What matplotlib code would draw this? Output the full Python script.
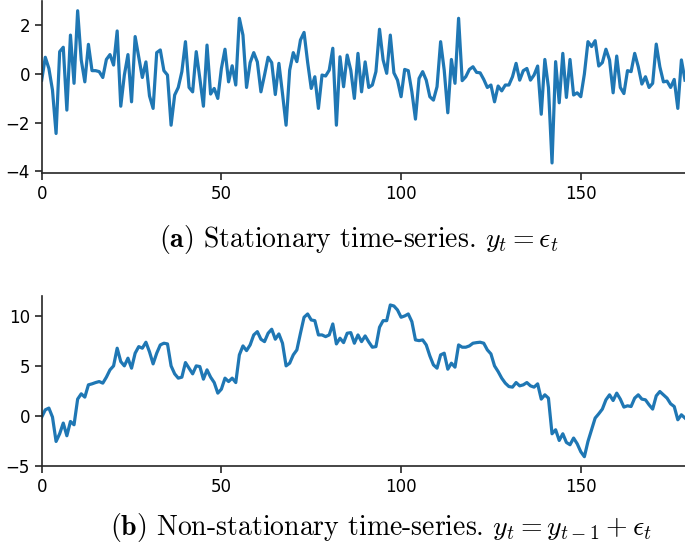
import numpy as np
import matplotlib
matplotlib.use("Agg")
import matplotlib.pyplot as plt

plt.rcParams["mathtext.fontset"] = "cm"

# stationary series y_t = eps_t
stationary = [
    -0.25, 0.69, 0.23, -0.66, -2.44, 0.92, 1.1, -1.48, 1.6, -0.38,
    2.6, 0.58, -0.32, 1.22, 0.14, 0.14, 0.1, -0.14, 0.6, 0.8,
    0.37, 1.77, -1.32, -0.04, 0.8, -1.14, 1.54, 0.71, -0.14, 0.5,
    -0.9, -1.41, 0.88, 0.99, 0.14, -0.04, -2.1, -0.86, -0.55, 0.1,
    1.33, -0.55, -0.73, 0.92, -0.18, -1.32, 1.19, -0.82, -0.59, -1.0,
    0.23, 1.02, -0.32, 0.34, -0.45, 2.29, 1.6, -0.55, 0.47, 0.88,
    0.5, -0.73, -0.04, 0.69, 0.47, -0.84, 0.44, -0.8, -2.1, 0.16,
    0.88, 0.51, 1.4, 1.71, 0.48, -0.59, -0.11, -1.41, -0.04, -0.08,
    0.16, 1.06, -2.1, 0.71, -0.52, 0.78, 0.16, -1.0, 0.85, -0.73,
    0.5, -0.55, -0.45, 0.1, 1.84, 0.58, 0.03, 1.6, 0.05, -0.25,
    -0.93, 0.19, 0.14, -0.73, -1.85, -0.18, 0.1, -0.25, -0.93, -1.07,
    -0.52, 1.33, 0.16, -1.59, 0.6, -0.38, 2.29, -0.27, -0.11, 0.19,
    0.3, 0.07, 0.05, -0.22, -0.55, -0.45, -1.14, -0.49, -0.69, -0.45,
    -0.45, -0.11, 0.44, -0.25, 0.14, 0.23, -0.25, -0.04, 0.33, -1.65,
    0.6, -0.55, -3.65, 0.51, -1.18, 0.85, -0.96, 0.6, -0.86, -0.77,
    -0.93, 0.0, 1.33, 1.13, 1.37, 0.33, 0.47, 1.02, 0.58, -0.77,
    0.74, -0.55, -0.8, 0.14, 0.1, 0.85, 0.3, -0.41, -0.11, -0.55,
    -0.38, 1.23, 0.3, -0.32, -0.29, -0.55, -0.22, -1.41, 0.58, -0.25,
]

# random walk y_t = y_{t-1} + eps_t
nonstationary = [
    -0.13, 0.6, 0.77, -0.13, -2.57, -1.8, -0.73, -2.0, -0.57, -0.9,
    1.67, 2.2, 1.87, 3.1, 3.2, 3.33, 3.43, 3.27, 3.87, 4.6,
    5.0, 6.77, 5.43, 5.0, 5.77, 4.77, 6.27, 6.93, 6.77, 7.37,
    6.4, 5.2, 6.27, 7.1, 7.27, 7.2, 5.0, 4.2, 3.77, 3.87,
    5.33, 4.77, 4.2, 5.0, 4.93, 3.67, 4.6, 3.87, 3.33, 2.27,
    2.67, 3.77, 3.43, 3.77, 3.33, 6.1, 7.0, 6.53, 7.1, 8.1,
    8.43, 7.67, 7.43, 8.27, 8.67, 7.67, 8.2, 7.27, 5.0, 5.27,
    6.1, 6.6, 8.27, 9.87, 10.2, 9.6, 9.53, 8.1, 8.1, 7.93,
    8.1, 9.2, 7.2, 7.77, 7.33, 8.27, 8.33, 7.27, 8.1, 7.43,
    8.0, 7.4, 6.87, 6.93, 8.87, 9.53, 9.53, 11.1, 11.0, 10.6,
    9.87, 10.0, 10.2, 9.43, 7.6, 7.53, 7.6, 7.1, 6.0, 5.1,
    4.77, 6.1, 6.27, 4.67, 5.27, 4.87, 7.1, 6.87, 6.87, 7.0,
    7.27, 7.33, 7.37, 7.27, 6.6, 6.2, 5.0, 4.43, 3.77, 3.27,
    2.93, 2.87, 3.33, 3.0, 3.1, 3.33, 3.0, 2.87, 3.2, 1.67,
    2.1, 1.77, -1.8, -1.4, -2.47, -1.8, -2.67, -2.9, -2.23, -2.8,
    -3.6, -4.1, -2.57, -1.4, -0.23, 0.2, 0.67, 1.6, 2.1, 1.53,
    2.27, 1.67, 0.87, 1.0, 0.93, 1.77, 2.1, 1.67, 1.6, 1.1,
    0.67, 2.0, 2.43, 2.1, 1.77, 1.2, 0.93, -0.4, 0.1, -0.23,
]

x_ticks = [0, 50, 100, 150]
top_yticks = [-4, -2, 0, 2]
bot_yticks = [-5, 0, 5, 10]

t = np.arange(len(stationary))
W, H = 685, 543
fig = plt.figure(figsize=(W / 100, H / 100), dpi=100)

ax1 = fig.add_axes([41.7 / W, 1 - 172.7 / H, 1 - 41.7 / W, 171.7 / H])
ax2 = fig.add_axes([41.7 / W, 1 - 465.7 / H, 1 - 41.7 / W, 169.7 / H])

for ax, y, yt, ylim in [(ax1, stationary, top_yticks, (-4.05, 3.0)),
                        (ax2, nonstationary, bot_yticks, (-5.0, 12.0))]:
    ax.plot(t, y, color="#1f77b4", lw=2.3)
    ax.set_xlim(0, len(y) - 1)
    ax.set_ylim(*ylim)
    ax.set_xticks(x_ticks)
    ax.set_yticks(yt)
    ax.spines["top"].set_visible(False)
    ax.spines["right"].set_visible(False)
    for s in ("left", "bottom"):
        ax.spines[s].set_color("#262626")
        ax.spines[s].set_linewidth(1.2)
    ax.tick_params(labelsize=12, length=5, width=1.2, color="#262626")

fig.text(0.524, 1 - 240 / H,
         r"$\mathbf{(a)}$ Stationary time-series. $y_t = \epsilon_t$",
         ha="center", va="center", fontsize=20, family="cmr10")
fig.text(0.556, 1 - 527 / H,
         r"$\mathbf{(b)}$ Non-stationary time-series. $y_t = y_{t-1} + \epsilon_t$",
         ha="center", va="center", fontsize=20, family="cmr10")

fig.savefig("out.png", dpi=100)
